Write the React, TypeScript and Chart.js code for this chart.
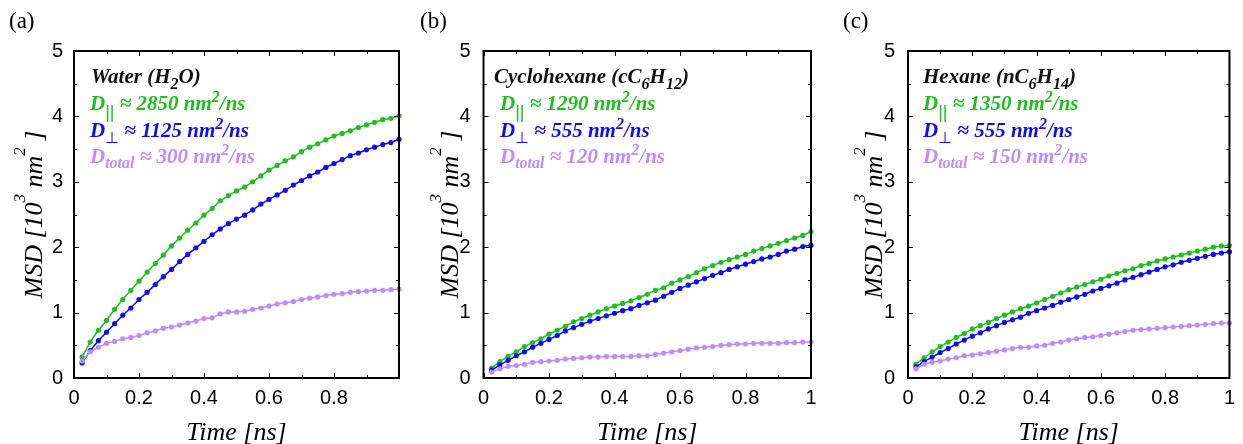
import { useEffect, useRef } from 'react';
import { Chart, registerables } from 'chart.js';

Chart.register(...registerables);

const SERIF = '"Liberation Serif", "Times New Roman", serif';
const SANS = '"Liberation Sans", Arial, sans-serif';
const SYM = '"DejaVu Sans", sans-serif';

const GREEN = '#1fbf1f';
const BLUE = '#0d0df2';
const PURPLE = '#bf8cff';

// time axis (ns)
const time = [
  0.025, 0.05, 0.075, 0.1, 0.125, 0.15, 0.175, 0.2, 0.225, 0.25,
  0.275, 0.3, 0.325, 0.35, 0.375, 0.4, 0.425, 0.45, 0.475, 0.5,
  0.525, 0.55, 0.575, 0.6, 0.625, 0.65, 0.675, 0.7, 0.725, 0.75,
  0.775, 0.8, 0.825, 0.85, 0.875, 0.9, 0.925, 0.95, 0.975, 1.0,
];

const xTicks = [0, 0.2, 0.4, 0.6, 0.8, 1];
const yTicks = [0, 1, 2, 3, 4, 5];

// (a) Water
const waterPar = [
  0.32, 0.55, 0.73, 0.88, 1.05, 1.2, 1.34, 1.48, 1.62, 1.75,
  1.88, 2.02, 2.14, 2.26, 2.37, 2.49, 2.59, 2.71, 2.79, 2.86,
  2.92, 3.0, 3.09, 3.18, 3.25, 3.32, 3.38, 3.46, 3.53, 3.58,
  3.64, 3.7, 3.74, 3.78, 3.83, 3.87, 3.91, 3.95, 3.97, 4.01,
];
const waterPerp = [
  0.23, 0.42, 0.57, 0.7, 0.83, 0.96, 1.07, 1.2, 1.31, 1.43,
  1.55, 1.66, 1.78, 1.89, 1.99, 2.09, 2.19, 2.28, 2.36, 2.43,
  2.49, 2.57, 2.66, 2.73, 2.8, 2.87, 2.95, 3.02, 3.09, 3.15,
  3.22, 3.28, 3.34, 3.4, 3.44, 3.49, 3.53, 3.57, 3.6, 3.65,
];
const waterTot = [
  0.26, 0.4, 0.47, 0.53, 0.56, 0.6, 0.62, 0.65, 0.69, 0.72,
  0.76, 0.78, 0.81, 0.84, 0.87, 0.91, 0.92, 0.98, 1.01, 1.01,
  1.02, 1.05, 1.07, 1.1, 1.13, 1.15, 1.17, 1.2, 1.22, 1.24,
  1.26, 1.28, 1.29, 1.31, 1.32, 1.33, 1.34, 1.34, 1.35, 1.36,
];

// (b) Cyclohexane
const cycloPar = [
  0.15, 0.25, 0.33, 0.4, 0.48, 0.54, 0.6, 0.67, 0.73, 0.79,
  0.86, 0.91, 0.96, 1.01, 1.06, 1.1, 1.14, 1.18, 1.23, 1.28,
  1.34, 1.38, 1.45, 1.5, 1.55, 1.61, 1.67, 1.72, 1.77, 1.81,
  1.85, 1.89, 1.94, 1.98, 2.02, 2.06, 2.1, 2.14, 2.18, 2.24,
];
const cycloPerp = [
  0.12, 0.2, 0.27, 0.34, 0.4, 0.47, 0.53, 0.59, 0.65, 0.72,
  0.77, 0.82, 0.87, 0.91, 0.95, 0.99, 1.03, 1.06, 1.11, 1.15,
  1.19, 1.25, 1.31, 1.37, 1.42, 1.47, 1.52, 1.57, 1.61, 1.66,
  1.7, 1.74, 1.78, 1.82, 1.85, 1.89, 1.94, 1.97, 2.01, 2.03,
];
const cycloTot = [
  0.09, 0.14, 0.18, 0.19, 0.21, 0.24, 0.25, 0.26, 0.27, 0.29,
  0.3, 0.31, 0.32, 0.32, 0.33, 0.33, 0.33, 0.33, 0.34, 0.34,
  0.36, 0.38, 0.4, 0.42, 0.44, 0.46, 0.47, 0.48, 0.5, 0.51,
  0.52, 0.52, 0.53, 0.53, 0.53, 0.53, 0.54, 0.54, 0.55, 0.55,
];

// (c) Hexane
const hexPar = [
  0.21, 0.31, 0.4, 0.48, 0.55, 0.62, 0.68, 0.75, 0.8, 0.85,
  0.91, 0.96, 1.01, 1.06, 1.1, 1.15, 1.2, 1.25, 1.3, 1.35,
  1.39, 1.43, 1.47, 1.51, 1.56, 1.6, 1.64, 1.67, 1.72, 1.75,
  1.79, 1.82, 1.85, 1.88, 1.91, 1.94, 1.97, 2.0, 2.02, 2.03,
];
const hexPerp = [
  0.17, 0.25, 0.32, 0.39, 0.45, 0.52, 0.58, 0.64, 0.69, 0.75,
  0.8, 0.85, 0.89, 0.93, 0.99, 1.03, 1.07, 1.11, 1.16, 1.2,
  1.24, 1.28, 1.33, 1.37, 1.41, 1.45, 1.5, 1.54, 1.58, 1.62,
  1.66, 1.7, 1.73, 1.77, 1.8, 1.83, 1.86, 1.89, 1.91, 1.93,
];
const hexTot = [
  0.14, 0.21, 0.24, 0.26, 0.29, 0.31, 0.34, 0.35, 0.37, 0.39,
  0.41, 0.43, 0.45, 0.47, 0.47, 0.49, 0.5, 0.53, 0.55, 0.58,
  0.6, 0.62, 0.63, 0.65, 0.67, 0.69, 0.71, 0.73, 0.74, 0.75,
  0.76, 0.77, 0.78, 0.79, 0.8, 0.81, 0.82, 0.83, 0.84, 0.84,
];

type Run = { t: string; size: number; dy?: number; bold?: boolean; italic?: boolean; family?: string; color?: string };

function runFont(r: Run) {
  return `${r.italic === false ? '' : 'italic '}${r.bold ? 'bold ' : ''}${r.size}px ${r.family || SERIF}`;
}

function drawRuns(ctx: CanvasRenderingContext2D, runs: Run[], x: number, y: number, color: string, align: 'left' | 'center' = 'left') {
  ctx.textAlign = 'left';
  ctx.textBaseline = 'alphabetic';
  const widths = runs.map((r) => {
    ctx.font = runFont(r);
    return ctx.measureText(r.t).width;
  });
  const total = widths.reduce((a, b) => a + b, 0);
  let cx = align === 'center' ? x - total / 2 : x;
  runs.forEach((r, i) => {
    ctx.font = runFont(r);
    ctx.fillStyle = r.color || color;
    ctx.fillText(r.t, cx, y + (r.dy || 0));
    cx += widths[i];
  });
}

type PanelCfg = {
  left: number;
  width: number;
  yAxisW: number;
  padRight: number;
  yPad: number;
  yTitleX: number;
  label: string;
  labelX: number;
  titleX: number;
  dX: number;
  hideOne: boolean;
  title: Run[];
  dPar: string;
  dPerp: string;
  dTot: string;
  par: number[];
  perp: number[];
  tot: number[];
};

const B = { bold: true, size: 21 };
const SUB = { bold: true, size: 16, dy: 6 };

const panels: PanelCfg[] = [
  {
    left: 0, width: 420, yAxisW: 74, padRight: 21, yPad: 11, yTitleX: 42, label: '(a)', labelX: 9,
    titleX: 91, dX: 90, hideOne: true,
    title: [{ t: 'Water (H', ...B }, { t: '2', ...SUB }, { t: 'O)', ...B }],
    dPar: '2850', dPerp: '1125', dTot: '300',
    par: waterPar, perp: waterPerp, tot: waterTot,
  },
  {
    left: 420, width: 420, yAxisW: 63.5, padRight: 29, yPad: 13, yTitleX: 38, label: '(b)', labelX: 0,
    titleX: 74, dX: 80, hideOne: false,
    title: [{ t: 'Cyclohexane (cC', ...B }, { t: '6', ...SUB }, { t: 'H', ...B }, { t: '12', ...SUB }, { t: ')', ...B }],
    dPar: '1290', dPerp: '555', dTot: '120',
    par: cycloPar, perp: cycloPerp, tot: cycloTot,
  },
  {
    left: 840, width: 403, yAxisW: 68, padRight: 9, yPad: 13, yTitleX: 42, label: '(c)', labelX: 3,
    titleX: 83, dX: 83, hideOne: false,
    title: [{ t: 'Hexane (nC', ...B }, { t: '6', ...SUB }, { t: 'H', ...B }, { t: '14', ...SUB }, { t: ')', ...B }],
    dPar: '1350', dPerp: '555', dTot: '150',
    par: hexPar, perp: hexPerp, tot: hexTot,
  },
];

function Panel({ cfg }: { cfg: PanelCfg }) {
  const ref = useRef<HTMLCanvasElement | null>(null);
  useEffect(() => {
    if (!ref.current) return;
    const mk = (arr: number[]) => time.map((t, i) => ({ x: t, y: arr[i] }));
    const ds = (arr: number[], color: string) => ({
      data: mk(arr),
      borderColor: color,
      backgroundColor: color,
      pointBackgroundColor: color,
      pointBorderColor: color,
      borderWidth: 1.5,
      pointRadius: 2.6,
      pointBorderWidth: 0,
      tension: 0,
      clip: false as any,
    });
    const overlay = {
      id: 'overlay',
      afterDatasetsDraw(chart: any) {
        const ctx: CanvasRenderingContext2D = chart.ctx;
        const a = chart.chartArea;
        const xs = chart.scales.x;
        const ys = chart.scales.y;
        ctx.save();
        ctx.strokeStyle = '#000';
        // ticks (inward, all four sides)
        ctx.lineWidth = 1;
        for (let i = 0; i <= 10; i++) {
          const v = i / 10;
          const px = Math.round(xs.getPixelForValue(v)) + 0.5;
          const len = i % 2 === 0 ? 5 : 3;
          ctx.beginPath();
          ctx.moveTo(px, a.bottom);
          ctx.lineTo(px, a.bottom - len);
          ctx.moveTo(px, a.top);
          ctx.lineTo(px, a.top + len);
          ctx.stroke();
        }
        for (let i = 0; i <= 10; i++) {
          const v = i / 2;
          const py = Math.round(ys.getPixelForValue(v)) + 0.5;
          const len = i % 2 === 0 ? 5 : 3;
          ctx.beginPath();
          ctx.moveTo(a.left, py);
          ctx.lineTo(a.left + len, py);
          ctx.moveTo(a.right, py);
          ctx.lineTo(a.right - len, py);
          ctx.stroke();
        }
        // frame
        ctx.lineWidth = 2;
        ctx.strokeRect(a.left, a.top, a.right - a.left, a.bottom - a.top);

        // axis titles
        drawRuns(ctx, [{ t: 'Time [ns]', size: 26 }], (a.left + a.right) / 2, 440, '#000', 'center');
        ctx.save();
        ctx.translate(cfg.yTitleX, (a.top + a.bottom) / 2);
        ctx.rotate(-Math.PI / 2);
        drawRuns(
          ctx,
          [
            { t: 'MSD [10', size: 26 },
            { t: '3', size: 17, dy: -17 },
            { t: ' nm', size: 26 },
            { t: '2', size: 17, dy: -17 },
            { t: ' ]', size: 26 },
          ],
          0,
          0,
          '#000',
          'center'
        );
        ctx.restore();

        // panel label
        drawRuns(ctx, [{ t: cfg.label, size: 23, italic: false }], cfg.labelX, 28, '#000');

        // annotations
        drawRuns(ctx, cfg.title, cfg.titleX, 83, '#111');
        const sup = { t: '2', bold: true, size: 16, dy: -8 };
        drawRuns(
          ctx,
          [
            { t: 'D', ...B },
            { t: '||', size: 18, dy: 8, italic: false, family: SANS },
            { t: ' \u2248 ' + cfg.dPar + ' nm', ...B },
            sup,
            { t: '/ns', ...B },
          ],
          cfg.dX,
          110,
          GREEN
        );
        drawRuns(
          ctx,
          [
            { t: 'D', ...B },
            { t: '\u22a5', size: 16, dy: 6, italic: false, family: SYM },
            { t: ' \u2248 ' + cfg.dPerp + ' nm', ...B },
            sup,
            { t: '/ns', ...B },
          ],
          cfg.dX,
          136.5,
          BLUE
        );
        drawRuns(
          ctx,
          [
            { t: 'D', ...B },
            { t: 'total', bold: true, size: 16, dy: 5 },
            { t: ' \u2248 ' + cfg.dTot + ' nm', ...B },
            sup,
            { t: '/ns', ...B },
          ],
          cfg.dX,
          162.5,
          PURPLE
        );
        ctx.restore();
      },
    };
    const chart = new Chart(ref.current, {
      type: 'line',
      data: {
        datasets: [ds(cfg.tot, PURPLE), ds(cfg.perp, BLUE), ds(cfg.par, GREEN)] as any,
      },
      options: {
        responsive: false,
        animation: false,
        devicePixelRatio: 1,
        layout: { padding: { left: 0, top: 51, right: cfg.padRight, bottom: 0 } },
        plugins: { legend: { display: false }, tooltip: { enabled: false } },
        scales: {
          x: {
            type: 'linear',
            min: 0,
            max: 1,
            afterBuildTicks: (s: any) => {
              s.ticks = xTicks.map((v) => ({ value: v }));
            },
            ticks: {
              font: { family: SANS, size: 20 },
              color: '#000',
              padding: 8,
              maxRotation: 0,
              callback: (v: any) => {
                const n = Number(v);
                if (cfg.hideOne && Math.abs(n - 1) < 1e-9) return '';
                return String(Number(n.toFixed(1)));
              },
            },
            grid: { display: false, drawTicks: false },
            border: { display: false },
            afterFit: (s: any) => {
              s.height = 66;
            },
          },
          y: {
            min: 0,
            max: 5,
            afterBuildTicks: (s: any) => {
              s.ticks = yTicks.map((v) => ({ value: v }));
            },
            ticks: {
              font: { family: SANS, size: 20 },
              color: '#000',
              padding: cfg.yPad,
              callback: (v: any) => String(v),
            },
            grid: { display: false, drawTicks: false },
            border: { display: false },
            afterFit: (s: any) => {
              s.width = cfg.yAxisW;
            },
          },
        },
      },
      plugins: [overlay],
    });
    return () => chart.destroy();
  }, [cfg]);
  return (
    <canvas
      ref={ref}
      width={cfg.width}
      height={444}
      style={{ position: 'absolute', left: cfg.left, top: 0, width: cfg.width, height: 444 }}
    />
  );
}

export default function App() {
  return (
    <div style={{ position: 'absolute', left: 0, top: 0, width: 1243, height: 444, background: '#fff', overflow: 'hidden' }}>
      {panels.map((p) => (
        <Panel key={p.label} cfg={p} />
      ))}
    </div>
  );
}
